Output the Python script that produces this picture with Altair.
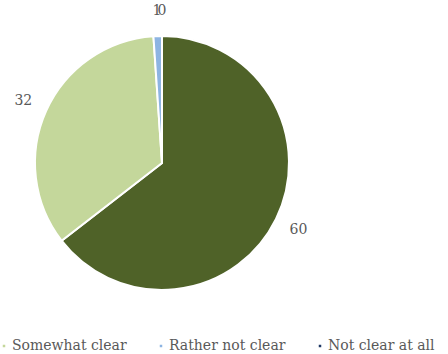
import altair as alt
import pandas as pd

categories = ["Very clear", "Somewhat clear", "Rather not clear", "Not clear at all"]
values = [60, 32, 1, 0]
colors = ["#4F6228", "#C4D79B", "#8DB4E2", "#1F3864"]
legend_items = ["Somewhat clear", "Rather not clear", "Not clear at all"]

df = pd.DataFrame({"category": categories, "value": values, "order": list(range(len(categories)))})

FONT = "DejaVu Serif"
CX, CY, R = 162, 163, 127

base = alt.Chart(df).encode(
    theta=alt.Theta("value:Q", stack=True),
    order=alt.Order("order:Q"),
)

arcs = base.mark_arc(outerRadius=R, stroke="white", strokeWidth=2).encode(
    x=alt.value(CX),
    y=alt.value(CY),
    color=alt.Color(
        "category:N",
        scale=alt.Scale(domain=categories, range=colors),
        legend=alt.Legend(
            values=legend_items,
            orient="none",
            legendX=-3,
            legendY=339,
            direction="horizontal",
            title=None,
            symbolType="square",
            symbolSize=16,
            labelFont=FONT,
            labelFontSize=14,
            labelColor="#595959",
            labelOffset=1,
            columnPadding=27,
        ),
    ),
)

labels = base.mark_text(radius=152, font=FONT, fontSize=14, color="#595959").encode(
    x=alt.value(CX),
    y=alt.value(CY),
    text=alt.Text("value:Q"),
)

chart = (
    alt.layer(arcs, labels)
    .properties(width=448, height=354, padding=0, autosize=alt.AutoSizeParams(type="none"))
    .configure_view(stroke=None)
)

chart.save("out.html", embed_options={"renderer": "svg", "actions": False})
